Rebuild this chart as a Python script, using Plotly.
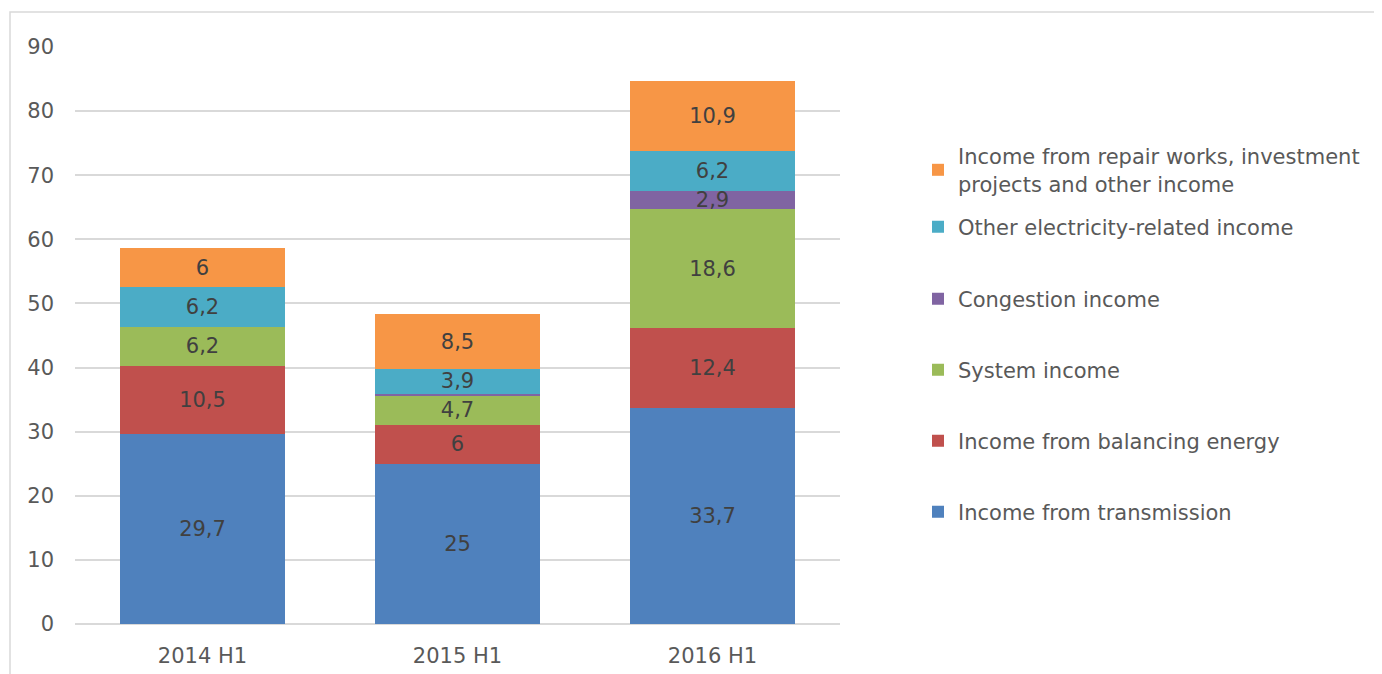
import plotly.graph_objects as go

categories = ["2014 H1", "2015 H1", "2016 H1"]
series_names = [
    "Income from transmission",
    "Income from balancing energy",
    "System income",
    "Congestion income",
    "Other electricity-related income",
    "Income from repair works, investment<br>projects and other income",
]
transmission = [29.7, 25, 33.7]
balancing = [10.5, 6, 12.4]
system_income = [6.2, 4.7, 18.6]
congestion = [0, 0.2, 2.9]
other_electricity = [6.2, 3.9, 6.2]
repair = [6, 8.5, 10.9]
y_ticks = [0, 10, 20, 30, 40, 50, 60, 70, 80, 90]

series_values = [transmission, balancing, system_income, congestion, other_electricity, repair]
colors = ["#4f81bd", "#c0504d", "#9bbb59", "#8064a2", "#4bacc6", "#f79646"]

OFF = 8  # page body margin
# legend item centre positions (pixels from top of window)
legend_px = [512, 441, 370, 299, 227, 170]

W, H = 1382 - OFF, 674 - OFF
ML, MT = 75 - OFF, 47 - OFF
PW, PH = 765, 577
MR, MB = W - ML - PW, H - MT - PH

FONT = "DejaVu Sans"
FS = 21
TXT = "#595959"

def fmt(v, show=True):
    if not show:
        return ""
    return ("%g" % v).replace(".", ",")

fig = go.Figure()
layout_legends = {}
for i, (name, vals, col) in enumerate(zip(series_names, series_values, colors)):
    texts = [fmt(v, v >= 1) for v in vals]
    lname = "legend" if i == 0 else "legend%d" % (i + 1)
    fig.add_trace(go.Bar(
        x=categories, y=vals, name=name, marker_color=col,
        marker_line_width=0,
        text=texts, textposition="inside", insidetextanchor="middle",
        textangle=0, textfont=dict(family=FONT, size=FS, color="#404040"),
        legend=lname, hoverinfo="x+y+name",
    ))
    layout_legends[lname] = dict(
        x=(918 - OFF - ML) / PW, y=1 - (legend_px[i] - OFF - MT) / PH,
        xanchor="left", yanchor="middle",
        font=dict(family=FONT, size=FS, color=TXT),
        bgcolor="rgba(0,0,0,0)", borderwidth=0,
    )

fig.update_layout(
    width=W, height=H,
    margin=dict(l=ML, r=MR, t=MT, b=MB, autoexpand=False),
    barmode="stack", bargap=0.353,
    paper_bgcolor="white", plot_bgcolor="white",
    font=dict(family=FONT, size=FS, color=TXT),
    uniformtext=dict(minsize=FS, mode="show"),
    showlegend=True,
    xaxis=dict(showgrid=False, ticks="", showline=False, automargin=False,
               tickfont=dict(family=FONT, size=FS, color=TXT), ticklabelstandoff=17),
    yaxis=dict(range=[0, 90], tickvals=y_ticks, showgrid=True, gridcolor="#d9d9d9",
               automargin=False,
               gridwidth=1.5, zeroline=True, zerolinecolor="#d9d9d9", zerolinewidth=1.5,
               tickfont=dict(family=FONT, size=FS, color=TXT), ticklabelstandoff=20),
    shapes=[dict(type="rect", xref="paper", yref="paper",
                 x0=(10 - OFF - ML) / PW, x1=(W + 5 - ML) / PW,
                 y0=-(MB + 5) / PH, y1=1 + (MT - (12 - OFF)) / PH,
                 line=dict(color="#d9d9d9", width=1.5), fillcolor="rgba(0,0,0,0)",
                 layer="below")],
    **layout_legends,
)

fig.write_html("out.html")
